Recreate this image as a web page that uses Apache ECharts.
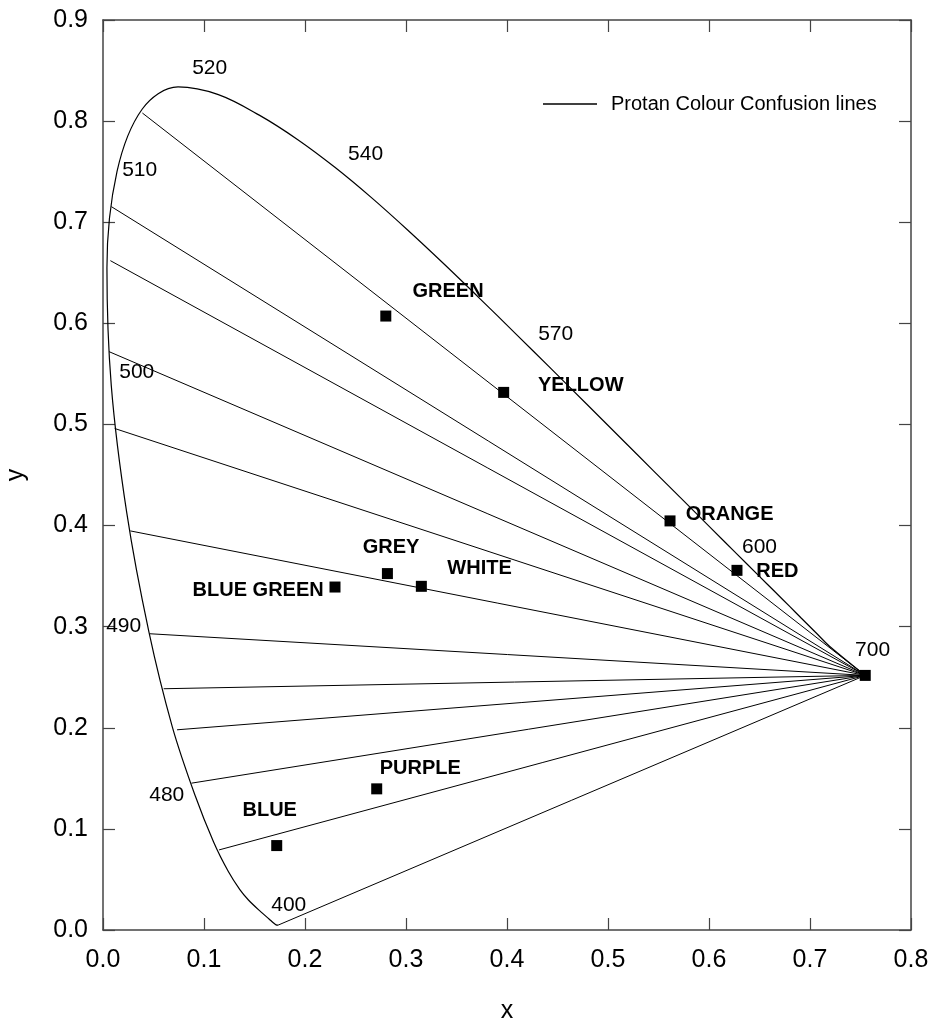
<!DOCTYPE html>
<html>
<head>
<meta charset="utf-8">
<script src="https://cdn.jsdelivr.net/npm/echarts@6/dist/echarts.min.js"></script>
<style>
html,body{margin:0;padding:0;background:#fff;}
#chart{width:935px;height:1023px;}
</style>
</head>
<body>
<div id="chart"></div>
<script>
// Spectral locus (x, y chromaticity), 400 nm -> 700 nm
const locus = [
  [0.1733,0.0048],[0.1726,0.0048],[0.1714,0.0051],[0.1689,0.0069],[0.1644,0.0109],
  [0.1566,0.0177],[0.1440,0.0297],[0.1355,0.0399],[0.1241,0.0578],[0.1096,0.0868],
  [0.0913,0.1327],[0.0687,0.2007],[0.0454,0.2950],[0.0235,0.4127],[0.0082,0.5384],
  [0.0039,0.6548],[0.0139,0.7502],[0.0389,0.8120],[0.0743,0.8338],[0.1142,0.8262],
  [0.1547,0.8059],[0.1929,0.7816],[0.2296,0.7543],[0.2658,0.7243],[0.3016,0.6923],
  [0.3374,0.6589],[0.3731,0.6245],[0.4087,0.5896],[0.4441,0.5547],[0.4788,0.5202],
  [0.5125,0.4866],[0.5448,0.4544],[0.5752,0.4242],[0.6029,0.3965],[0.6270,0.3725],
  [0.6482,0.3514],[0.6658,0.3340],[0.6801,0.3198],[0.6915,0.3083],[0.7079,0.2920],
  [0.7190,0.2809],[0.7547,0.2518]
];
// Protan copunctal point (where all confusion lines meet)
const copunctal = [0.7547, 0.2518];
// Start points of the confusion lines on the locus
const confusionStarts = [
  [0.0390,0.8080],[0.0083,0.7154],[0.0073,0.6620],[0.0060,0.5720],[0.0116,0.4960],
  [0.0271,0.3947],[0.0462,0.2930],[0.0601,0.2386],[0.0733,0.1980],[0.0875,0.1452],
  [0.1149,0.0792],[0.1733,0.0048]
];
// Colour samples
const colourNames = ['GREEN','YELLOW','ORANGE','RED','WHITE','GREY','BLUE GREEN','PURPLE','BLUE',''];
const colourX = [0.2800,0.3967,0.5614,0.6277,0.3152,0.2816,0.2297,0.2710,0.1720,0.7547];
const colourY = [0.6072,0.5317,0.4046,0.3557,0.3399,0.3525,0.3392,0.1396,0.0835,0.2518];
// Wavelength annotations (nm) and where they sit
const wlNames = ['520','510','540','570','500','490','480','400','600','700'];
const wlX = [0.1056,0.0363,0.2600,0.4482,0.0334,0.0205,0.0631,0.1839,0.6500,0.7620];
const wlY = [0.8528,0.7518,0.7676,0.5894,0.5518,0.3003,0.1330,0.0250,0.3785,0.2765];
// Axis ticks
const xTicks = [0,0.1,0.2,0.3,0.4,0.5,0.6,0.7,0.8];
const yTicks = [0,0.1,0.2,0.3,0.4,0.5,0.6,0.7,0.8,0.9];

const FONT = 'Liberation Sans, Arial, Helvetica, sans-serif';
const AX = '#444';
// label placement (px offset from marker centre) — layout only
const labelLayout = {
  'GREEN':[26.7,-24.5,'left'], 'YELLOW':[34.3,-7,'left'], 'ORANGE':[15.7,-6.5,'left'],
  'RED':[19.3,1,'left'], 'WHITE':[26,-17.5,'left'], 'GREY':[3.7,-26,'center'],
  'BLUE GREEN':[-11.3,3.5,'right'], 'PURPLE':[3,-20,'left'], 'BLUE':[-7,-35,'center']
};

const chart = echarts.init(document.getElementById('chart'));

const confName = 'Protan Colour Confusion lines';
const series = [];
series.push({
  type:'line', name:'locus', data: locus, symbol:'none', silent:true, smooth:0.35,
  itemStyle:{color:'#000'}, lineStyle:{color:'#000', width:1.2}, z:3
});
confusionStarts.forEach(p => {
  series.push({
    type:'line', name: confName, data:[p, copunctal], symbol:'none', silent:true,
    itemStyle:{color:'#000'}, lineStyle:{color:'#000', width:1}, z:3
  });
});
series.push({
  type:'scatter', name:'colours', symbol:'rect', symbolSize:11, z:5,
  itemStyle:{color:'#000', opacity:1},
  data: colourNames.map((n,i) => {
    const lay = labelLayout[n];
    const item = {name:n, value:[colourX[i], colourY[i]]};
    if (lay) {
      item.label = {show:true, formatter:n, position:[5.5+lay[0], 5.5+lay[1]],
        align:lay[2], verticalAlign:'middle', fontFamily:FONT, fontWeight:'bold',
        fontSize:20, color:'#000', opacity:1};
    }
    return item;
  })
});
series.push({
  type:'scatter', name:'wl', symbolSize:1, z:6, silent:true,
  itemStyle:{color:'rgba(0,0,0,0)', opacity:1},
  label:{show:true, position:'inside', formatter: p => p.name, fontFamily:FONT,
    fontSize:21, color:'#000', opacity:1},
  data: wlNames.map((n,i) => ({name:n, value:[wlX[i], wlY[i]]}))
});

const axisCommon = {
  type:'value', splitLine:{show:false},
  axisLine:{show:true, onZero:false, lineStyle:{color:AX, width:1.5}},
  axisTick:{show:true, inside:true, length:12, lineStyle:{color:AX, width:1.2}}
};

chart.setOption({
  animation:false,
  backgroundColor:'#fff',
  grid:{left:103, right:24, top:20, bottom:93, containLabel:false, outerBoundsMode:'none'},
  legend:{
    data:[confName], left:543, top:94, padding:0, itemWidth:54, itemHeight:1.3,
    icon:'rect', itemStyle:{color:'#000'},
    textStyle:{fontFamily:FONT, fontSize:20, color:'#000', padding:[0,0,0,9]}
  },
  xAxis:[
    Object.assign({}, axisCommon, {
      min:xTicks[0], max:xTicks[xTicks.length-1], interval:0.1, position:'bottom',
      name:'x', nameLocation:'middle', nameGap:69,
      nameTextStyle:{fontFamily:FONT, fontSize:25, color:'#000'},
      axisLabel:{fontFamily:FONT, fontSize:25, color:'#000', margin:18,
        formatter:v => v.toFixed(1)}
    }),
    Object.assign({}, axisCommon, {
      min:xTicks[0], max:xTicks[xTicks.length-1], interval:0.1, position:'top',
      axisLabel:{show:false}
    })
  ],
  yAxis:[
    Object.assign({}, axisCommon, {
      min:yTicks[0], max:yTicks[yTicks.length-1], interval:0.1, position:'left',
      name:'y', nameLocation:'middle', nameGap:74,
      nameTextStyle:{fontFamily:FONT, fontSize:25, color:'#000'},
      axisLabel:{fontFamily:FONT, fontSize:25, color:'#000', margin:15,
        formatter:v => v.toFixed(1)}
    }),
    Object.assign({}, axisCommon, {
      min:yTicks[0], max:yTicks[yTicks.length-1], interval:0.1, position:'right',
      axisLabel:{show:false}
    })
  ],
  series: series
});
</script>
</body>
</html>
